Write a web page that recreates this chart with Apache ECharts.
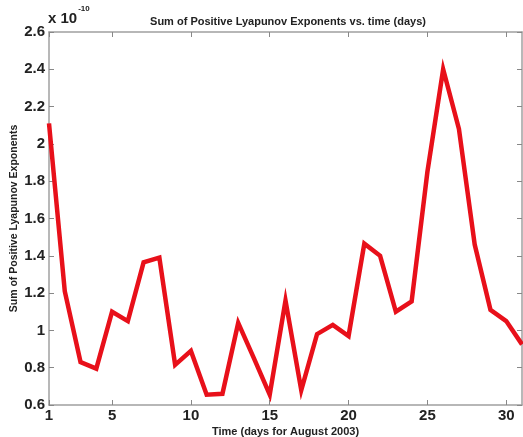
<!DOCTYPE html>
<html>
<head>
<meta charset="utf-8">
<script src="https://cdn.jsdelivr.net/npm/echarts@6/dist/echarts.min.js"></script>
<style>html,body{margin:0;padding:0;background:#fff}#c{width:523px;height:437px}</style>
</head>
<body>
<div id="c"></div>
<script>
var days = [1,2,3,4,5,6,7,8,9,10,11,12,13,14,15,16,17,18,19,20,21,22,23,24,25,26,27,28,29,30,31];
var lyapunovSum = [2.11,1.21,0.83,0.795,1.10,1.05,1.365,1.39,0.815,0.89,0.655,0.66,1.04,0.85,0.655,1.16,0.68,0.98,1.03,0.97,1.465,1.40,1.10,1.155,1.85,2.40,2.08,1.46,1.11,1.05,0.925];
var xTicks = [1,5,10,15,20,25,30];
var yTicks = [0.6,0.8,1,1.2,1.4,1.6,1.8,2,2.2,2.4,2.6];

var font = 'Liberation Sans, Arial, Helvetica, sans-serif';
var boxColor = '#a0a0a0';
var chart = echarts.init(document.getElementById('c'), null, {renderer:'canvas'});
chart.setOption({
  animation:false,
  backgroundColor:'#fff',
  title:{
    text:'Sum of Positive Lyapunov Exponents vs. time (days)',
    left:283, top:11, textAlign:'center',
    textStyle:{fontFamily:font,fontSize:11,fontWeight:'bold',color:'#222'}
  },
  graphic:[{
    type:'text', left:48, top:5,
    style:{
      text:'{a|x 10}{b|-10}',
      rich:{
        a:{fontFamily:font,fontSize:15,fontWeight:'bold',fill:'#222',padding:[6,0,0,0]},
        b:{fontFamily:font,fontSize:8,fontWeight:'bold',fill:'#222',verticalAlign:'top',padding:[0,0,8,1]}
      }
    }
  }],
  grid:{left:49,right:1,top:32,bottom:32,containLabel:false,outerBoundsMode:'none'},
  xAxis:[{
    type:'value', min:1, max:31,
    name:'Time (days for August 2003)', nameLocation:'middle', nameGap:21, nameMoveOverlap:false,
    nameTextStyle:{fontFamily:font,fontSize:11,fontWeight:'bold',color:'#222'},
    axisLine:{show:true,lineStyle:{color:boxColor,width:1.5}},
    axisTick:{show:true,inside:true,length:5,customValues:xTicks,lineStyle:{color:'#888'}},
    axisLabel:{customValues:xTicks,fontFamily:font,fontSize:15,fontWeight:'bold',color:'#222',margin:3,showMinLabel:true,showMaxLabel:true,hideOverlap:false},
    splitLine:{show:false}
  },{
    type:'value', min:1, max:31, position:'top',
    axisLine:{show:true,lineStyle:{color:boxColor,width:1.5}},
    axisTick:{show:true,inside:true,length:5,customValues:xTicks,lineStyle:{color:'#888'}},
    axisLabel:{show:false}, splitLine:{show:false}
  }],
  yAxis:[{
    type:'value', min:0.6, max:2.6, interval:0.2,
    name:'Sum of Positive Lyapunov Exponents', nameLocation:'middle', nameGap:29, nameMoveOverlap:false,
    nameTextStyle:{fontFamily:font,fontSize:10.5,fontWeight:'bold',color:'#222'},
    axisLine:{show:true,lineStyle:{color:boxColor,width:1.5}},
    axisTick:{show:true,inside:true,length:5,lineStyle:{color:'#888'}},
    axisLabel:{fontFamily:font,fontSize:15,fontWeight:'bold',color:'#222',margin:4,
      formatter:function(v){return String(Math.round(v*10)/10);}},
    splitLine:{show:false}
  },{
    type:'value', min:0.6, max:2.6, interval:0.2, position:'right',
    axisLine:{show:true,lineStyle:{color:boxColor,width:1.5}},
    axisTick:{show:true,inside:true,length:5,lineStyle:{color:'#888'}},
    axisLabel:{show:false}, splitLine:{show:false}
  }],
  series:[{
    type:'line',
    data:days.map(function(d,i){return [d,lyapunovSum[i]];}),
    symbol:'none',
    lineStyle:{color:'#e8101a',width:4.5,join:'miter'},
    itemStyle:{color:'#e8101a'}
  }]
});
</script>
</body>
</html>
